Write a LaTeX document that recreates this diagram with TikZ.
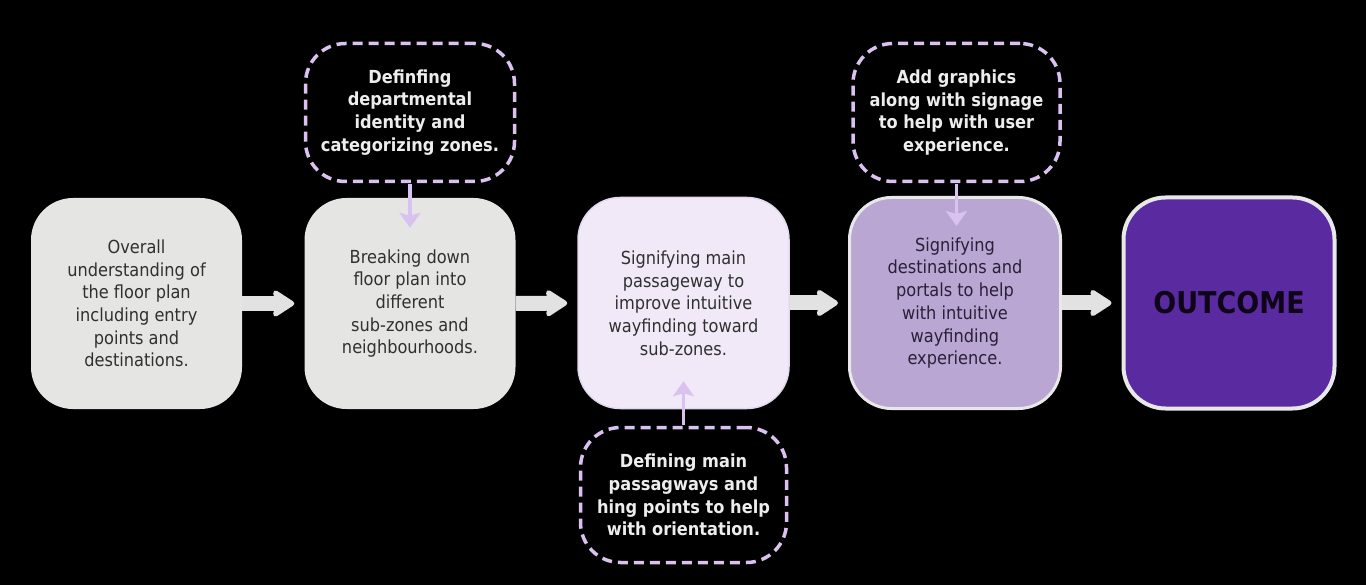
\documentclass[tikz,border=0pt]{standalone}
\usepackage{fontspec}
\setmainfont{DejaVu Sans Condensed}
\usetikzlibrary{arrows.meta,calc}
\definecolor{boxgray}{HTML}{E5E5E4}
\definecolor{palelav}{HTML}{F1E9F8}
\definecolor{palelavb}{HTML}{E2D9EC}
\definecolor{midlav}{HTML}{B9A6D2}
\definecolor{deeppurple}{HTML}{5A2AA0}
\definecolor{lavline}{HTML}{D9C2EF}
\definecolor{arrowgray}{HTML}{E2E2E2}
\definecolor{darktext}{HTML}{303030}
\definecolor{plumtext}{HTML}{2A1F38}
\definecolor{lighttext}{HTML}{EDEDED}
\definecolor{outline}{HTML}{E8E8E8}
\tikzset{
  x=1pt, y=-1pt,
  mainbox/.style={rounded corners=42pt, minimum width=211pt, minimum height=211pt,
    align=center, text=darktext, inner sep=0pt,
    font=\fontsize{18pt}{22.7pt}\selectfont},
  dashbox/.style={draw=lavline, line width=3.5pt, dash pattern=on 10pt off 6pt,
    rounded corners=40pt, align=center, text=lighttext, inner sep=0pt,
    font=\fontsize{18pt}{22.8pt}\selectfont\bfseries},
  blockarrow/.style={draw=arrowgray, line width=15pt,
    -{Stealth[length=25pt,width=32pt,inset=5pt,round=false]}, arrowgray, shorten >=10pt},
  conn/.style={draw=lavline, line width=3.5pt,
    -{Stealth[length=15pt,width=21pt,inset=3pt]}, lavline}
}
\begin{document}
\begin{tikzpicture}
\useasboundingbox (0,0) rectangle (1366,585);
\fill[black] (0,0) rectangle (1366,585);

\node[mainbox, fill=boxgray] (b1) at (136.5,303.5)
  {Overall\\understanding of\\the floor plan\\including entry\\points and\\destinations.};
\node[mainbox, fill=boxgray] (b2) at (410,303.5)
  {Breaking down\\floor plan into\\different\\sub-zones and\\neighbourhoods.};
\node[mainbox, fill=palelav, draw=palelavb, line width=1.5pt] (b3) at (683.5,303)
  {Signifying main\\passageway to\\improve intuitive\\wayfinding toward\\sub-zones.};
\node[mainbox, fill=midlav, draw=outline, line width=3pt, text=plumtext] (b4) at (955,303)
  {Signifying\\destinations and\\portals to help\\with intuitive\\wayfinding\\experience.};
\node[mainbox, fill=deeppurple, draw=outline, line width=4pt, text=black!85!deeppurple,
  font=\fontsize{30pt}{36pt}\selectfont\bfseries] (b5) at (1229,303) {OUTCOME};

\node[dashbox, minimum width=209pt, minimum height=138pt] (d1) at (410,112.5)
  {Definfing\\departmental\\identity and\\categorizing zones.};
\node[dashbox, minimum width=207pt, minimum height=138pt] (d2) at (956.5,112.5)
  {Add graphics\\along with signage\\to help with user\\experience.};
\node[dashbox, minimum width=206pt, minimum height=135pt] (d3) at (683.5,495)
  {Defining main\\passagways and\\hing points to help\\with orientation.};

\draw[blockarrow] (b1.east) -- (b2.west);
\draw[blockarrow] (b2.east) -- (b3.west);
\draw[blockarrow] (b3.east) -- (b4.west);
\draw[blockarrow] (b4.east) -- (b5.west);

\draw[conn, shorten <=1pt, shorten >=-30pt] (d1.south) -- (d1.south |- b2.north);
\draw[conn, shorten <=1pt, shorten >=-30pt] (d2.south) -- (d2.south |- b4.north);
\draw[conn, shorten <=1pt, shorten >=-28pt] (d3.north) -- (d3.north |- b3.south);
\end{tikzpicture}
\end{document}
